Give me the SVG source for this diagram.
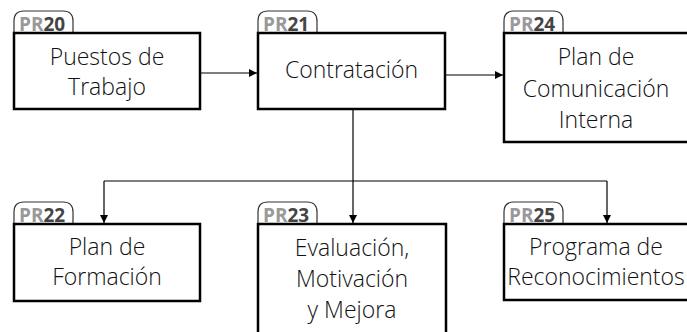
<svg xmlns="http://www.w3.org/2000/svg" width="687" height="332" viewBox="0 0 687 332">
<style>
.box{fill:#fff;stroke:#000;stroke-width:2.5}
.tab{fill:#fff;stroke:#333;stroke-width:1.2}
.lbl{font-family:"Open Sans","Noto Sans","DejaVu Sans",sans-serif;font-size:23px;font-weight:300;fill:#111;text-anchor:middle}
.tag{font-family:"Open Sans","Noto Sans","DejaVu Sans",sans-serif;font-size:19px;font-weight:bold}
.pr{fill:#999}
.num{fill:#444}
.con{fill:none;stroke:#000;stroke-width:1.2}
</style>
<defs>
<marker id="arr" markerWidth="8" markerHeight="8" refX="8" refY="4" orient="auto" markerUnits="userSpaceOnUse">
<path d="M0,0 L8,4 L0,8 Z" fill="#000"/>
</marker>
<path id="tabshape" d="M0,22 L0,10 Q0,0 10,0 L49,0 Q59,0 59,10 L59,22"/>
</defs>
<g id="connectors">
<line class="con" x1="201" y1="73" x2="257" y2="73" marker-end="url(#arr)"/>
<line class="con" x1="446" y1="75" x2="503" y2="75" marker-end="url(#arr)"/>
<path class="con" d="M353,110 L353,181"/>
<path class="con" d="M104,181 L607,181"/>
<line class="con" x1="104" y1="181" x2="104" y2="223" marker-end="url(#arr)"/>
<line class="con" x1="353" y1="181" x2="353" y2="223" marker-end="url(#arr)"/>
<line class="con" x1="607" y1="181" x2="607" y2="223" marker-end="url(#arr)"/>
</g>
<g id="PR20">
<use href="#tabshape" class="tab" x="14" y="11"/>
<text class="tag" x="19" y="31"><tspan class="pr">PR</tspan><tspan class="num">20</tspan></text>
<rect class="box" x="14" y="33" width="186" height="76"/>
<text class="lbl" x="107" y="65">Puestos de</text>
<text class="lbl" x="107" y="95">Trabajo</text>
</g>
<g id="PR21">
<use href="#tabshape" class="tab" x="258" y="11"/>
<text class="tag" x="263" y="31"><tspan class="pr">PR</tspan><tspan class="num">21</tspan></text>
<rect class="box" x="258" y="33" width="187" height="76"/>
<text class="lbl" x="351.5" y="78">Contratación</text>
</g>
<g id="PR24">
<use href="#tabshape" class="tab" x="504" y="11"/>
<text class="tag" x="509" y="31"><tspan class="pr">PR</tspan><tspan class="num">24</tspan></text>
<rect class="box" x="504" y="33" width="187" height="109"/>
<text class="lbl" x="596" y="65">Plan de</text>
<text class="lbl" x="596" y="97">Comunicación</text>
<text class="lbl" x="596" y="128">Interna</text>
</g>
<g id="PR22">
<use href="#tabshape" class="tab" x="14" y="202"/>
<text class="tag" x="19" y="222"><tspan class="pr">PR</tspan><tspan class="num">22</tspan></text>
<rect class="box" x="14" y="224" width="186" height="77"/>
<text class="lbl" x="107" y="255">Plan de</text>
<text class="lbl" x="107" y="285">Formación</text>
</g>
<g id="PR23">
<use href="#tabshape" class="tab" x="258" y="202"/>
<text class="tag" x="263" y="222"><tspan class="pr">PR</tspan><tspan class="num">23</tspan></text>
<rect class="box" x="258" y="224" width="188" height="120"/>
<text class="lbl" x="352" y="256">Evaluación,</text>
<text class="lbl" x="352" y="287">Motivación</text>
<text class="lbl" x="352" y="318">y Mejora</text>
</g>
<g id="PR25">
<use href="#tabshape" class="tab" x="504" y="202"/>
<text class="tag" x="509" y="222"><tspan class="pr">PR</tspan><tspan class="num">25</tspan></text>
<rect class="box" x="504" y="224" width="187" height="76"/>
<text class="lbl" x="596" y="255">Programa de</text>
<text class="lbl" x="596" y="285">Reconocimientos</text>
</g>
</svg>
